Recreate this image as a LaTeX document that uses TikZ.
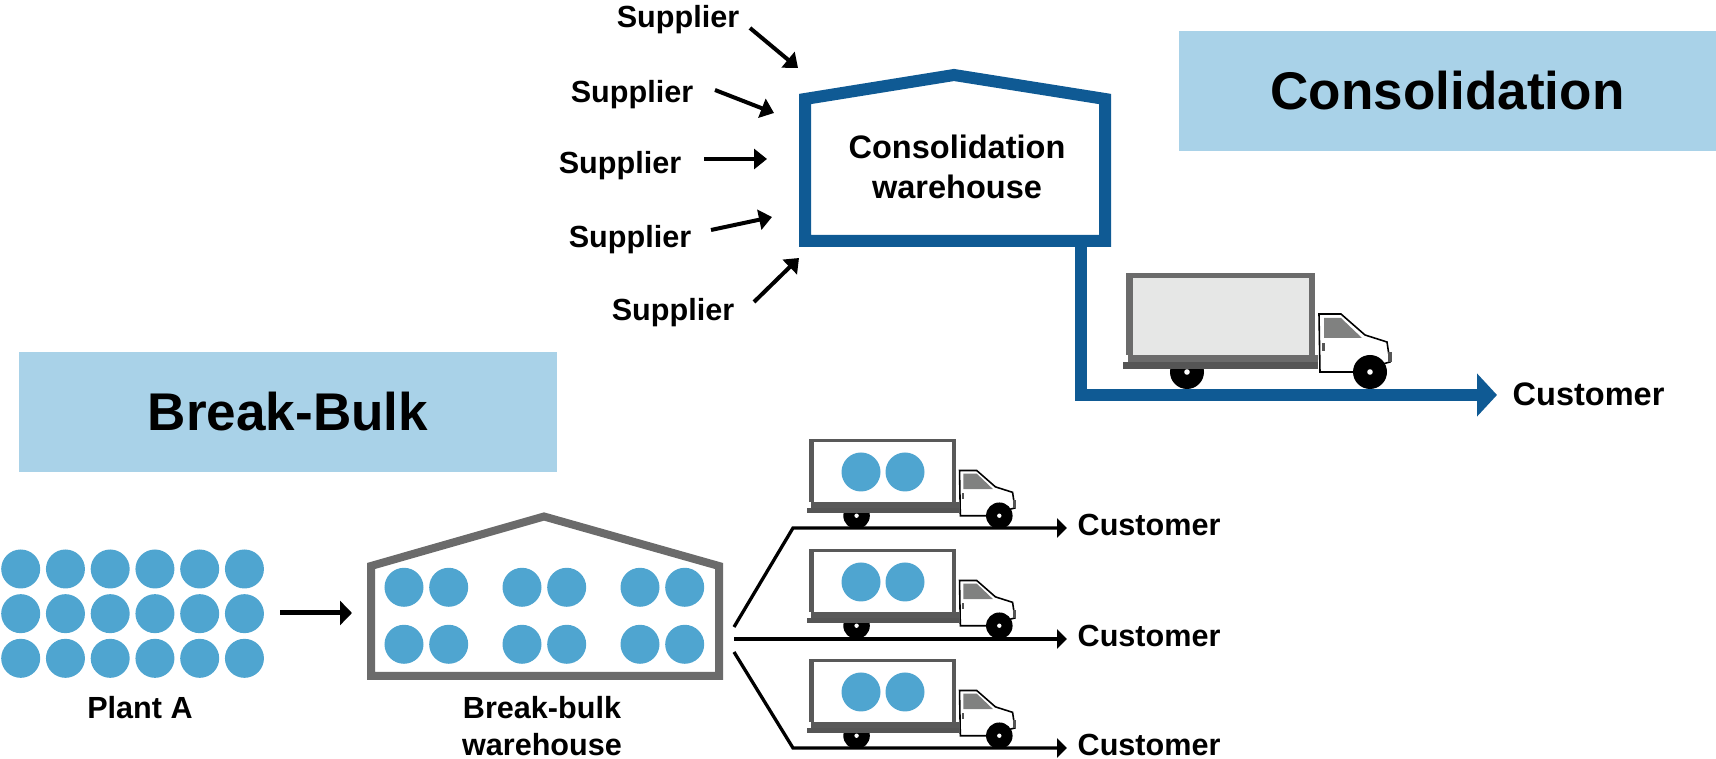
\documentclass[tikz,border=0pt]{standalone}
\usepackage{fontspec}
\setmainfont{Liberation Sans}
\usepackage{xcolor}
\usetikzlibrary{positioning,calc,arrows.meta}
\definecolor{wallblue}{HTML}{0F5A94}
\definecolor{titleblue}{HTML}{A9D2E8}
\definecolor{dotblue}{HTML}{4FA5D0}
\definecolor{wallgrey}{HTML}{6B6B6B}
\definecolor{framedark}{HTML}{595959}
\definecolor{bedgrey}{HTML}{555555}
\definecolor{windowgrey}{HTML}{808180}
\definecolor{cargogrey}{HTML}{E6E7E6}
\tikzset{
    lbl/.style={font=\bfseries\fontsize{8.7}{10.5}\selectfont, align=center, inner sep=0.1cm},
    lblbig/.style={font=\bfseries\fontsize{9.25}{11.6}\selectfont, align=center, inner sep=0.1cm},
    titlebox/.style={fill=titleblue, minimum width=5.38cm, minimum height=1.2cm, inner sep=0pt, font=\bfseries\fontsize{15.1}{18}\selectfont},
    dot/.style={fill=dotblue},
    arr/.style={line width=0.04cm, -{Triangle[length=0.13cm,width=0.2cm]}},
    road/.style={line width=0.033cm, -{Triangle[length=0.1cm,width=0.19cm]}},
    pics/truck/.style 2 args={code={
        % rear wheel goes under the bed
        \fill[black] (0.61,0.17) circle (0.17);
        \fill[white] (0.61,0.17) circle (0.028);
        \fill[#2] (0,0.34) rectangle (1.89,1.16);
        \fill[#1] (0.07,0.34) rectangle (1.83,1.11);
        \fill[#2] (0.02,0.27) rectangle (1.92,0.34);
        \fill[bedgrey] (-0.03,0.2) rectangle (1.92,0.27);
        % cab
        \draw[fill=white, line width=0.45pt] (1.93,0.75) -- (2.15,0.75) -- (2.39,0.54) -- (2.61,0.47) -- (2.64,0.27) -- (2.27,0.17) -- (1.94,0.17) -- cycle;
        \fill[windowgrey] (1.98,0.71) -- (2.15,0.71) -- (2.36,0.51) -- (1.98,0.51) -- cycle;
        \fill[bedgrey] (1.96,0.38) rectangle (1.99,0.46);
        \fill[bedgrey] (2.62,0.27) rectangle (2.66,0.37);
        \fill[black] (2.44,0.17) circle (0.17);
        \fill[white] (2.44,0.17) circle (0.028);
    }}
}
\begin{document}
\begin{tikzpicture}[scale=1]
    \useasboundingbox (0,0) rectangle (17.16,7.59);

    \node[titlebox] (consbox) at (14.475,6.68) {Consolidation};
    \node[titlebox] (bulkbox) at (2.88,3.47) {Break-Bulk};

    % Consolidation warehouse
    \draw[wallblue, line width=0.12cm] (8.05,6.6) -- (9.54,6.84) -- (11.05,6.6) -- (11.05,5.18) -- (8.05,5.18) -- cycle;
    \node[lblbig] (conswh) at (9.57,5.92) {Consolidation\\warehouse};

    % Suppliers
    \foreach \i/\lx/\ly/\ax/\ay/\bx/\by in {
        1/6.78/7.39/7.5/7.31/7.98/6.91,
        2/6.32/6.64/7.15/6.69/7.74/6.46,
        3/6.2/5.93/7.04/6/7.67/6,
        4/6.3/5.19/7.11/5.29/7.72/5.42,
        5/6.73/4.46/7.54/4.57/7.99/5.01}{
        \node[lbl] (sup\i) at (\lx,\ly) {Supplier};
        \coordinate (tail\i) at (\ax,\ay);
        \coordinate (tip\i) at (\bx,\by);
        \draw[arr] (tail\i) -- (tip\i);
    }

    % Route to the customer
    \node[lblbig, anchor=west, inner sep=0.15cm] (custtop) at (14.97,3.65) {Customer};
    \coordinate (stem) at (10.81,5.18);
    \coordinate (roadtop) at (10.81,3.64);
    \draw[wallblue, line width=0.12cm, -{Triangle[length=0.2cm,width=0.42cm]}] (stem) -- (roadtop) -- (custtop.west |- roadtop);
    \pic at (11.26,3.7) {truck={cargogrey}{wallgrey}};

    % Plant A
    \foreach \col in {0,...,5}
        \foreach \row in {0,1,2}
            \fill[dot] ({0.207+0.4475*\col},{1.9-0.4467*\row}) circle (0.195);
    \node[lbl] (plant) at (1.4,0.51) {Plant A};
    \coordinate (plantout) at (2.8,1.46);
    \coordinate (bulkin) at (3.52,1.46);
    \draw[line width=0.05cm, -{Triangle[length=0.12cm,width=0.24cm]}] (plantout) -- (bulkin);

    % Break-bulk warehouse
    \draw[wallgrey, line width=0.08cm] (3.71,1.93) -- (5.44,2.425) -- (7.19,1.93) -- (7.19,0.83) -- (3.71,0.83) -- cycle;
    \foreach \x in {4.04,4.487,5.22,5.667,6.4,6.847}
        \foreach \y in {1.717,1.147}
            \fill[dot] (\x,\y) circle (0.195);
    \node[lbl] (bulkwh) at (5.42,0.325) {Break-bulk\\warehouse};

    % Three routes out
    \node[lbl, anchor=west] (custa) at (10.67,2.34) {Customer};
    \node[lbl, anchor=west] (custb) at (10.67,1.23) {Customer};
    \node[lbl, anchor=west] (custc) at (10.67,0.14) {Customer};
    \coordinate (outa) at (7.34,1.32);
    \coordinate (benda) at (7.93,2.31);
    \coordinate (outb) at (7.34,1.2);
    \coordinate (outc) at (7.34,1.07);
    \coordinate (bendc) at (7.93,0.11);
    \draw[road] (outa) -- (benda) -- (custa.west |- benda);
    \draw[road] (outb) -- (custb.west |- outb);
    \draw[road] (outc) -- (bendc) -- (custc.west |- bendc);

    \foreach \y in {2.3,1.2,0.1}{
        \pic[scale=0.78] at (8.09,\y) {truck={white}{framedark}};
        \fill[dot] (8.61,\y+0.57) circle (0.195);
        \fill[dot] (9.05,\y+0.57) circle (0.195);
    }
\end{tikzpicture}
\end{document}
